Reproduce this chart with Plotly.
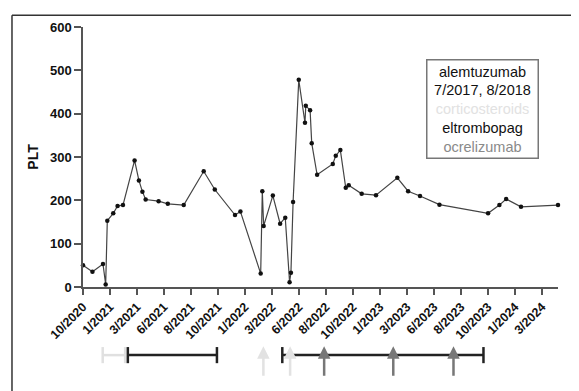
import plotly.graph_objects as go

# ---- data ----
tick_labels = ["10/2020", "1/2021", "3/2021", "6/2021", "8/2021", "10/2021", "1/2022",
               "3/2022", "6/2022", "8/2022", "10/2022", "1/2023", "3/2023", "6/2023",
               "8/2023", "10/2023", "1/2024", "3/2024"]
# positions of measurements along the (evenly spaced) date axis, in tick units
x_pos = [0.0, 0.35, 0.74, 0.84, 0.9, 1.12, 1.28, 1.48, 1.91, 2.07, 2.2, 2.32, 2.8, 3.14,
         3.73, 4.47, 4.88, 5.63, 5.83, 6.58, 6.64, 6.69, 7.03, 7.3, 7.49, 7.65, 7.7, 7.78,
         7.99, 8.22, 8.25, 8.41, 8.47, 8.67, 9.25, 9.36, 9.53, 9.73, 9.84, 10.32, 10.85,
         11.64, 12.04, 12.48, 13.2, 15.0, 15.42, 15.67, 16.22, 17.59]
plt_values = [50, 35, 53, 6, 153, 170, 187, 189, 292, 246, 220, 202, 198, 192,
              189, 267, 225, 166, 174, 31, 221, 141, 211, 146, 160, 11, 33, 196,
              478, 379, 418, 408, 332, 259, 284, 303, 316, 229, 235, 215, 212,
              252, 221, 210, 190, 170, 189, 203, 185, 189]

corticosteroid_courses = [(0.73, 1.56)]
corticosteroid_pulses = [6.68, 7.67]
eltrombopag_courses = [(1.66, 4.96), (7.38, 14.83)]
ocrelizumab_doses = [8.93, 11.49, 13.72]

legend_lines = [("alemtuzumab", "#111111"), ("7/2017, 8/2018", "#111111"),
                ("corticosteroids", "#e2e2e2"), ("eltrombopag", "#111111"),
                ("ocrelizumab", "#8a8a8a")]

FONT = "Liberation Sans, Arial, sans-serif"

fig = go.Figure()
fig.add_trace(go.Scatter(
    x=x_pos, y=plt_values, mode="lines+markers",
    line=dict(color="#444444", width=1.2),
    marker=dict(color="#111111", size=4.5),
    cliponaxis=False, showlegend=False))

shapes = []
annotations = []

# outer frame (top and left edges visible)
shapes.append(dict(type="line", xref="paper", yref="paper", x0=-0.1495, x1=1.2,
                   y0=1.0456, y1=1.0456, line=dict(color="#333333", width=1.5)))
shapes.append(dict(type="line", xref="paper", yref="paper", x0=-0.1495, x1=-0.1495,
                   y0=1.0456, y1=-0.5, line=dict(color="#333333", width=1.5)))

BAR_Y = -0.262
CAP_H = 0.031


def course(x0, x1, color, width):
    shapes.append(dict(type="line", xref="x", yref="paper", x0=x0, x1=x1, y0=BAR_Y, y1=BAR_Y,
                       line=dict(color=color, width=width)))
    for xc in (x0, x1):
        shapes.append(dict(type="line", xref="x", yref="paper", x0=xc, x1=xc,
                           y0=BAR_Y - CAP_H, y1=BAR_Y + CAP_H,
                           line=dict(color=color, width=width)))


for a, b in corticosteroid_courses:
    course(a, b, "#e0e0e0", 2.5)
for a, b in eltrombopag_courses:
    course(a, b, "#222222", 2.5)


def arrow(xv, color):
    annotations.append(dict(x=xv, y=-0.228, xref="x", yref="paper", text="",
                            showarrow=True, ax=0, ay=31, axref="pixel", ayref="pixel",
                            arrowhead=2, arrowsize=1.0, arrowwidth=2.5,
                            arrowcolor=color, standoff=0))


for xv in corticosteroid_pulses:
    arrow(xv, "#e2e2e2")
for xv in ocrelizumab_doses:
    arrow(xv, "#777777")

legend_text = "<br>".join(f"<span style='color:{c}'>{t}</span>" for t, c in legend_lines)
annotations.append(dict(x=0.84, y=0.684, xref="paper", yref="paper", text=legend_text,
                        showarrow=False, align="center", xanchor="center", yanchor="middle",
                        width=104,
                        font=dict(family=FONT, size=14.5, color="#111111"),
                        bordercolor="#777777", borderwidth=1.5, borderpad=3,
                        bgcolor="white"))

fig.update_layout(
    width=571, height=383,
    margin=dict(l=75, r=21, t=16, b=104),
    paper_bgcolor="white", plot_bgcolor="white",
    font=dict(family=FONT, color="#111111"),
    shapes=shapes, annotations=annotations,
    xaxis=dict(range=[0, 17.59], tickmode="array", tickvals=list(range(len(tick_labels))),
               ticktext=tick_labels, tickangle=-45, showgrid=False, zeroline=False,
               showline=True, linecolor="#555555", linewidth=1.5,
               ticks="outside", ticklen=6, tickwidth=1.5, tickcolor="#555555",
               tickfont=dict(family=FONT, size=12.5, weight="bold", color="#111111")),
    yaxis=dict(range=[0, 600], dtick=100, showgrid=False, zeroline=False,
               showline=True, linecolor="#555555", linewidth=1.5,
               ticks="outside", ticklen=7, tickwidth=1.5, tickcolor="#555555",
               tickfont=dict(family=FONT, size=13, weight="bold", color="#111111"),
               title=dict(text="PLT", standoff=8,
                          font=dict(family=FONT, size=14, weight="bold", color="#111111"))),
)

fig.write_html("out.html")
